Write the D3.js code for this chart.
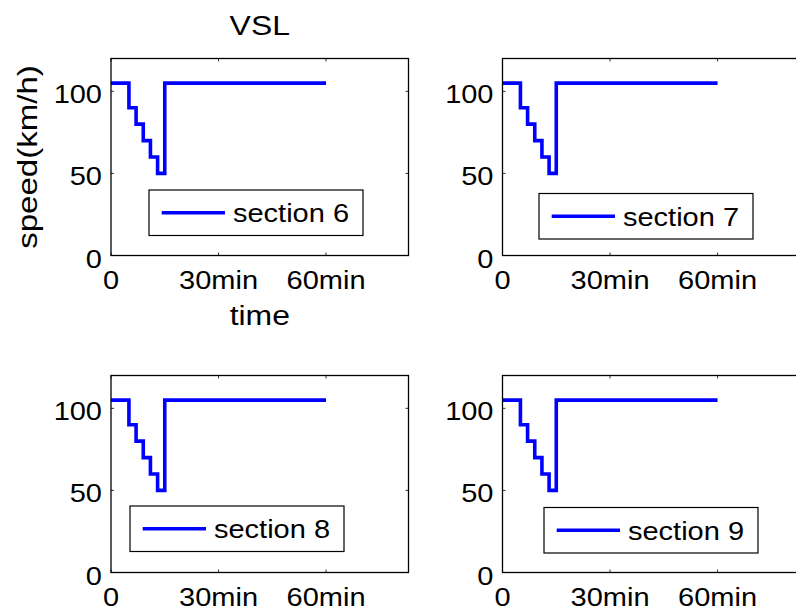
<!DOCTYPE html>
<html>
<head>
<meta charset="utf-8">
<script src="https://cdn.jsdelivr.net/npm/d3@7"></script>
<style>
body { margin: 0; background: #fff; }
text { font-family: "Liberation Sans", Arial, sans-serif; fill: #000; }
</style>
</head>
<body>
<div id="viz"></div>
<script>
var width = 796;
var height = 613;
var stretch = 1.16;

// data
var sections = ["section 6", "section 7", "section 8", "section 9"];
var times = [0, 5, 7, 9, 11, 13, 15, 60];
var speed6 = [105, 90, 80, 70, 60, 50, 105, 105];
var speed7 = [105, 90, 80, 70, 60, 50, 105, 105];
var speed8 = [105, 90, 80, 70, 60, 50, 105, 105];
var speed9 = [105, 90, 80, 70, 60, 50, 105, 105];
var speeds = [speed6, speed7, speed8, speed9];
var xTicks = [0, 30, 60];
var xTickLabels = ["0", "30min", "60min"];
var yTicks = [0, 50, 100];

// layout
var pw = 297.5, ph = 197;
var panels = [
	{left: 111, top: 58.5, lx: 38, ly: 131.5},
	{left: 502.5, top: 58.5, lx: 36.5, ly: 135},
	{left: 111, top: 375.5, lx: 19, ly: 130.5},
	{left: 502.5, top: 375.5, lx: 41.5, ly: 132}
];
var legW = 214, legH = 45.5;

var svg = d3.select("#viz").append("svg")
	.attr("width", width)
	.attr("height", height);

var stext = function(sel, x, y, str, size, anchor, rot) {
	return sel.append("text")
		.attr("transform", "translate(" + x + "," + y + ")" + (rot ? " rotate(" + rot + ")" : "") + " scale(" + stretch + ",1)")
		.attr("text-anchor", anchor || "start")
		.style("font-size", size + "px")
		.text(str);
}

panels.forEach(function(p, i) {
	var x = d3.scaleLinear().domain([0, 83]).range([0, pw]);
	var y = d3.scaleLinear().domain([0, 120]).range([ph, 0]);

	var g = svg.append("g")
		.attr("transform", "translate(" + p.left + "," + p.top + ")");

	g.append("rect")
		.attr("width", pw)
		.attr("height", ph)
		.attr("fill", "#fff");

	var line = d3.line()
		.curve(d3.curveStepAfter)
		.x(function(d) { return x(d[0]); })
		.y(function(d) { return y(d[1]); });

	var pts = times.map(function(t, j) { return [t, speeds[i][j]]; });

	g.append("path")
		.attr("d", line(pts))
		.attr("fill", "none")
		.attr("stroke", "#0000ff")
		.attr("stroke-width", 3.6);

	// inward ticks on all four sides
	g.selectAll(".xt").data(xTicks).enter().append("path")
		.attr("d", function(d) { return "M" + x(d) + "," + ph + "v-3M" + x(d) + ",0v3"; })
		.attr("stroke", "#333").attr("stroke-width", 1);
	g.selectAll(".yt").data(yTicks).enter().append("path")
		.attr("d", function(d) { return "M0," + y(d) + "h3M" + pw + "," + y(d) + "h-3"; })
		.attr("stroke", "#333").attr("stroke-width", 1);

	g.append("rect")
		.attr("width", pw)
		.attr("height", ph)
		.attr("fill", "none")
		.attr("stroke", "#000")
		.attr("stroke-width", 1.3);

	xTicks.forEach(function(d, k) {
		stext(g, x(d), ph + 33.5, xTickLabels[k], 25, "middle");
	});
	yTicks.forEach(function(d) {
		stext(g, -9, y(d) + 12, d, 25, "end");
	});

	// legend
	var lg = g.append("g")
		.attr("transform", "translate(" + p.lx + "," + p.ly + ")");
	lg.append("rect")
		.attr("width", legW)
		.attr("height", legH)
		.attr("fill", "#fff")
		.attr("stroke", "#000")
		.attr("stroke-width", 1.2);
	lg.append("line")
		.attr("x1", 12.7).attr("x2", 76)
		.attr("y1", legH / 2).attr("y2", legH / 2)
		.attr("stroke", "#0000ff")
		.attr("stroke-width", 3.6);
	stext(lg, 84, legH / 2 + 9.5, sections[i], 25, "start");

	if (i == 0) {
		stext(svg, p.left + pw / 2, 35, "VSL", 27.5, "middle");
		stext(svg, p.left + pw / 2, 325, "time", 27.5, "middle");
		stext(svg, 37, p.top + ph / 2, "speed(km/h)", 28.5, "middle", -90);
	}
});
</script>
</body>
</html>
